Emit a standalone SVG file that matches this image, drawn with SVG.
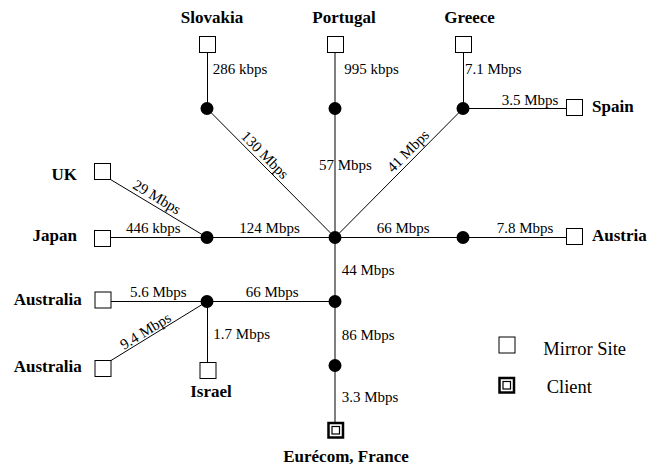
<svg xmlns="http://www.w3.org/2000/svg" width="658" height="464" viewBox="0 0 658 464">
<style>
.ln{stroke:#000;stroke-width:1;fill:none}
.sq{fill:#fff;stroke:#000;stroke-width:1}
.rt{fill:#000}
text{font-family:'Liberation Serif','DejaVu Serif',serif;fill:#000}
.lb{font-size:15px}
.nm{font-size:17px;font-weight:bold}
.lg{font-size:18.5px}
</style>
<rect width="658" height="464" fill="#fff"/>
<g id="connectors">
<line class="ln" x1="207.5" y1="52" x2="207.5" y2="108.5"/>
<line class="ln" x1="335" y1="52" x2="335" y2="422"/>
<line class="ln" x1="463.5" y1="52" x2="463.5" y2="108.5"/>
<line class="ln" x1="463" y1="108.5" x2="566" y2="108.5"/>
<line class="ln" x1="207" y1="108.5" x2="335" y2="237.5"/>
<line class="ln" x1="463" y1="108.5" x2="335" y2="237.5"/>
<line class="ln" x1="110.5" y1="179.5" x2="207" y2="237.5"/>
<line class="ln" x1="110.5" y1="237.5" x2="566" y2="237.5"/>
<line class="ln" x1="111" y1="301.5" x2="335" y2="301.5"/>
<line class="ln" x1="111" y1="360.5" x2="207" y2="301.5"/>
<line class="ln" x1="207.5" y1="301.5" x2="207.5" y2="362.5"/>
</g>
<g id="link-labels">
<text class="lb" x="212.7" y="74">286 kbps</text>
<text class="lb" x="344.3" y="74">995 kbps</text>
<text class="lb" x="465" y="74">7.1 Mbps</text>
<text class="lb" x="501.7" y="105">3.5 Mbps</text>
<text class="lb" x="319" y="170">57 Mbps</text>
<text class="lb" text-anchor="middle" transform="translate(265,155) rotate(45.2)" x="0" y="5">130 Mbps</text>
<text class="lb" text-anchor="middle" transform="translate(408,151) rotate(-45.2)" x="0" y="5">41 Mbps</text>
<text class="lb" text-anchor="middle" transform="translate(157,197) rotate(31)" x="0" y="5">29 Mbps</text>
<text class="lb" x="126" y="233">446 kbps</text>
<text class="lb" x="239.3" y="233">124 Mbps</text>
<text class="lb" x="376.7" y="233">66 Mbps</text>
<text class="lb" x="496.7" y="233">7.8 Mbps</text>
<text class="lb" x="341.7" y="275">44 Mbps</text>
<text class="lb" x="130" y="297">5.6 Mbps</text>
<text class="lb" x="245.7" y="297">66 Mbps</text>
<text class="lb" text-anchor="middle" transform="translate(145.5,331) rotate(-31.6)" x="0" y="5">9.4 Mbps</text>
<text class="lb" x="213.3" y="339.3">1.7 Mbps</text>
<text class="lb" x="341.7" y="340">86 Mbps</text>
<text class="lb" x="341.7" y="401.7">3.3 Mbps</text>
</g>
<g id="routers">
<circle class="rt" cx="207" cy="108.5" r="6.5"/>
<circle class="rt" cx="335" cy="108.5" r="6.5"/>
<circle class="rt" cx="463" cy="108.5" r="6.5"/>
<circle class="rt" cx="207" cy="237.5" r="6.5"/>
<circle class="rt" cx="335" cy="237.5" r="6.5"/>
<circle class="rt" cx="463" cy="237.5" r="6.5"/>
<circle class="rt" cx="207" cy="301.5" r="6.5"/>
<circle class="rt" cx="335" cy="301.5" r="6.5"/>
<circle class="rt" cx="335" cy="365.5" r="6.5"/>
</g>
<g id="slovakia"><rect class="sq" x="199.5" y="36.5" width="16" height="16"/><text class="nm" x="212" y="23" text-anchor="middle">Slovakia</text></g>
<g id="portugal"><rect class="sq" x="327.5" y="36.5" width="16" height="16"/><text class="nm" x="344" y="23" text-anchor="middle">Portugal</text></g>
<g id="greece"><rect class="sq" x="455.5" y="36.5" width="16" height="16"/><text class="nm" x="469.5" y="23" text-anchor="middle">Greece</text></g>
<g id="spain"><rect class="sq" x="566.5" y="99.5" width="16" height="16"/><text class="nm" x="592" y="111.5">Spain</text></g>
<g id="uk"><rect class="sq" x="94.5" y="163.5" width="16" height="16"/><text class="nm" x="77" y="180" text-anchor="end">UK</text></g>
<g id="japan"><rect class="sq" x="94.5" y="230.5" width="16" height="16"/><text class="nm" x="77" y="241" text-anchor="end">Japan</text></g>
<g id="austria"><rect class="sq" x="566.5" y="228.5" width="16" height="16"/><text class="nm" x="592" y="240.7">Austria</text></g>
<g id="australia1"><rect class="sq" x="95" y="292" width="16" height="16"/><text class="nm" x="81.7" y="304.5" text-anchor="end">Australia</text></g>
<g id="australia2"><rect class="sq" x="95" y="360.5" width="16" height="16"/><text class="nm" x="81.7" y="372.3" text-anchor="end">Australia</text></g>
<g id="israel"><rect class="sq" x="200" y="362.5" width="16" height="16"/><text class="nm" x="211" y="396.5" text-anchor="middle">Israel</text></g>
<g id="eurecom">
<rect x="328.5" y="423" width="14.5" height="14.5" fill="#fff" stroke="#000" stroke-width="2.5"/>
<rect x="332" y="426.5" width="7.5" height="7.5" fill="#fff" stroke="#000" stroke-width="1.2"/>
<text class="nm" x="346" y="461.5" text-anchor="middle">Eurécom, France</text>
</g>
<g id="legend">
<rect class="sq" x="499" y="337" width="16" height="16"/>
<text class="lg" x="543.3" y="354.5">Mirror Site</text>
<rect x="499.5" y="378" width="14.5" height="14.5" fill="#fff" stroke="#000" stroke-width="2.5"/>
<rect x="503" y="381.5" width="7.5" height="7.5" fill="#fff" stroke="#000" stroke-width="1.2"/>
<text class="lg" x="546.7" y="392.5">Client</text>
</g>
</svg>
